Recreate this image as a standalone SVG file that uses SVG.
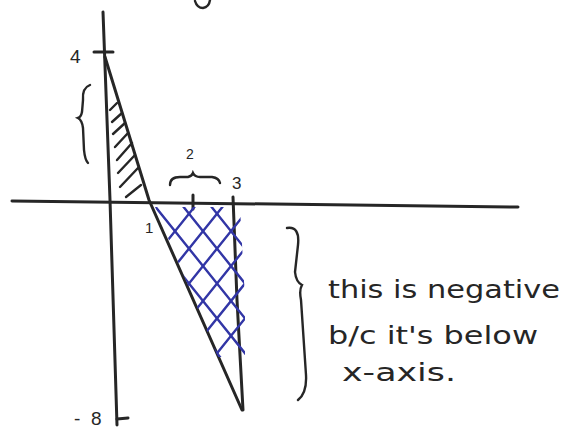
<svg xmlns="http://www.w3.org/2000/svg" width="565" height="430" viewBox="0 0 565 430">
<style>
.ink{fill:none;stroke:#262626;stroke-width:3;stroke-linecap:round;stroke-linejoin:round}
.thin{fill:none;stroke:#262626;stroke-width:2.4;stroke-linecap:round}
.blue{fill:none;stroke:#3236a6;stroke-width:2.4;stroke-linecap:round}
.lbl{font-family:"Liberation Sans","DejaVu Sans",sans-serif;fill:#262626}
.note{font-family:"DejaVu Sans","Liberation Sans",sans-serif;fill:#262626;font-size:25px}
</style>
<defs>
<clipPath id="reg"><polygon points="155,207 240,207 245,300 245,357 218,357"/></clipPath>
</defs>
<rect width="565" height="430" fill="#ffffff"/>
<path class="thin" d="M195 1 Q 197 8 203 8 Q 209 7 210 0"/>
<g id="axes">
<path class="ink" d="M103 12 L110 200 L117 425"/>
<path class="ink" d="M12 201 Q 260 203 518 207"/>
<path class="ink" d="M94 52 L113 52"/>
<path class="ink" d="M117 419 L128 418"/>
<path class="ink" d="M193 195 L193 209"/>
</g>
<g id="graph">
<path class="ink" d="M105 57 L149 200 L242 410"/>
<path class="ink" d="M233 197 L237 300 L243 410"/>
</g>
<g id="positive-hatch">
<path class="thin" d="M110 110 L117 103 M112 122 L122 113 M113 134 L125 123 M115 147 L128 133 M117 160 L132 143 M118 173 L135 155 M120 187 L138 168 M126 197 L141 185"/>
</g>
<g id="negative-hatch" clip-path="url(#reg)">
<path class="blue" d="M150 200 L280 362 M178 200 L308 362 M206 200 L336 362 M122 200 L252 362 M94 200 L224 362"/>
<path class="blue" d="M200 200 L70 362 M228 200 L98 362 M256 200 L126 362 M284 200 L154 362 M312 200 L182 362 M340 200 L210 362"/>
</g>
<g id="labels">
<text class="lbl" x="70" y="63" font-size="19">4</text>
<text class="lbl" x="186" y="159" font-size="14">2</text>
<text class="lbl" x="232" y="189" font-size="17">3</text>
<text class="lbl" x="145" y="233" font-size="15">1</text>
<text class="lbl" x="74" y="425" font-size="19">-<tspan x="91">8</tspan></text>
</g>
<g id="braces">
<path class="thin" d="M90 85 Q 82 88 83 100 L82 112 Q 81 117 78 118 Q 82 120 83 128 L84 150 Q 85 160 88 163"/>
<path class="thin" d="M170 185 Q 170 177 180 177 L188 177 Q 192 176 193 173 Q 195 177 200 177 L212 177 Q 219 178 220 183"/>
<path class="thin" d="M287 228 Q 300 226 298 245 L295 272 Q 296 282 302 285 Q 299 290 301 300 L306 375 Q 307 393 298 400"/>
</g>
<g id="note">
<text class="note" x="328" y="298" textLength="232" lengthAdjust="spacingAndGlyphs">this is negative</text>
<text class="note" x="328" y="344" textLength="210" lengthAdjust="spacingAndGlyphs">b/c it's below</text>
<text class="note" x="342" y="381" textLength="114" lengthAdjust="spacingAndGlyphs">x-axis.</text>
</g>
</svg>
